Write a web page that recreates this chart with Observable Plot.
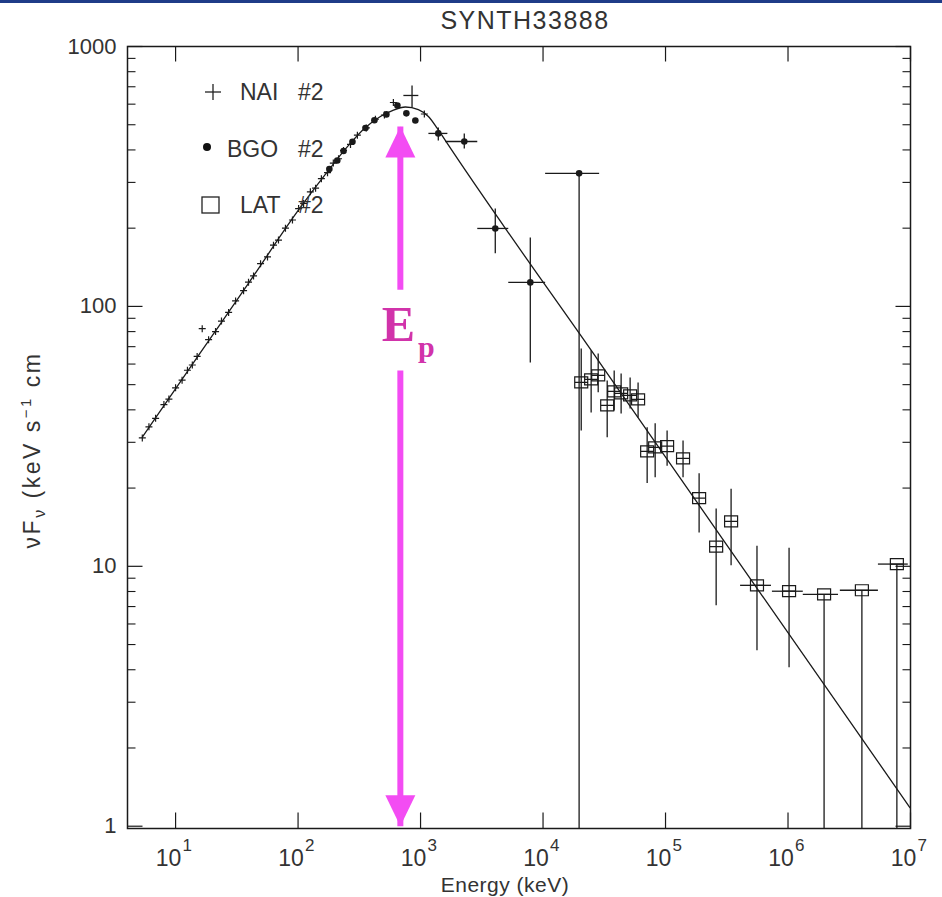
<!DOCTYPE html>
<html><head><meta charset="utf-8">
<script src="https://cdn.jsdelivr.net/npm/d3@7"></script>
<script src="https://cdn.jsdelivr.net/npm/@observablehq/plot@0.6"></script>
<style>
body{margin:0;background:#fff;}
#wrap{position:relative;width:942px;height:897px;overflow:hidden;background:#fff;font-family:"Liberation Sans",sans-serif;color:#333;}
#bar{position:absolute;left:0;top:0;width:942px;height:3px;background:#1f3c88;}
#title{position:absolute;left:425px;width:200px;top:6px;text-align:center;font-size:25px;letter-spacing:1.5px;color:#333;}
#chart{position:absolute;left:0;top:0;}
#xlab{position:absolute;left:505px;top:885px;transform:translate(-50%,-50%);font-size:21px;white-space:nowrap;letter-spacing:0.5px;}
#ylab{position:absolute;left:33px;top:450px;transform:translate(-50%,-50%) rotate(-90deg);font-size:23px;white-space:nowrap;letter-spacing:2.5px;}
#ylab sub{font-size:16px;vertical-align:-5px;}
#ylab sup{font-size:15px;vertical-align:9px;}
#legend{position:absolute;left:0;top:0;}
</style></head><body>
<div id="wrap">
<div id="chart"></div>
<div id="bar"></div>
<div id="title">SYNTH33888</div>
<div id="xlab">Energy (keV)</div>
<div id="ylab">νF<sub>ν</sub> (keV s<sup>−1</sup> cm</div>
<svg id="legend" width="942" height="897" font-family="Liberation Sans" font-size="23" fill="#333">
  <g stroke="#222" stroke-width="1.3" fill="none">
    <line x1="205" y1="92" x2="221" y2="92"/><line x1="213" y1="84" x2="213" y2="100"/>
    <rect x="202" y="197" width="17" height="16"/>
  </g>
  <circle cx="207" cy="147" r="4" fill="#111"/>
  <text x="240" y="100">NAI</text><text x="298" y="100">#2</text>
  <text x="227" y="157">BGO</text><text x="298" y="157">#2</text>
  <text x="240" y="213">LAT</text><text x="298" y="213">#2</text>
</svg>
</div>
<script>
// ---- axes ----
const xDomain = [4.05, 1e7];
const yDomain = [0.98, 1000];
const xTicks = [10, 100, 1e3, 1e4, 1e5, 1e6, 1e7];
const xTickExp = ["1", "2", "3", "4", "5", "6", "7"];
const yTicks = [1, 10, 100, 1000];
const yTickLabels = ["1", "10", "100", "1000"];
const yMinor = [2,3,4,5,6,7,8,9,20,30,40,50,60,70,80,90,200,300,400,500,600,700,800,900];

// ---- model curve ----
const modelE = [5.35, 16.0, 40.9, 98.9, 167, 253, 355, 470, 589, 752, 959, 1159, 1371, 1592, 29300, 490000, 9.89e6];
const modelF = [31.4, 66.5, 126, 232, 322, 412, 488, 538, 567, 585, 572, 538, 484, 435, 60.4, 8.99, 1.18];

// ---- NaI #2 ----
const naiE = [5.35, 6.06, 6.87, 8.03, 8.82, 10.0, 11.3, 12.5, 13.7, 15.0, 16.5, 18.6, 21.2, 23.7, 27.1, 30.9, 35.9, 39.4, 43.3, 49.4, 56.3, 63.0, 69.2, 78.9, 90.0, 101, 111, 126, 139, 155, 174, 194, 214, 235, 268, 305, 361, 428, 507, 600, 1074];
const naiF = [31.2, 34.4, 37.1, 41.9, 44.0, 48.6, 52.0, 56.8, 59.5, 64.2, 82.1, 74.5, 80.0, 87.8, 94.8, 105, 115, 124, 131, 146, 155, 172, 180, 200, 215, 238, 249, 276, 285, 310, 327, 356, 370, 398, 420, 456, 486, 525, 545, 609, 550];
// large NaI bin with error bars
const naiBigE = [852], naiBigF = [648], naiBigELo = [724], naiBigEHi = [959], naiBigFLo = [582], naiBigFHi = [708];

// ---- BGO #2 ----
const bgoE = [180, 209, 235, 278, 355, 420, 526, 647, 766, 907, 1396, 2275, 4074, 7870, 19700];
const bgoF = [338, 364, 396, 430, 486, 520, 548, 593, 553, 519, 463, 431, 199.5, 123.7, 325];
const bgoELo = [null,null,null,null,null,null,null,null,null,null, 1159, 1592, 2904, 5200, 10400];
const bgoEHi = [null,null,null,null,null,null,null,null,null,null, 1656, 2904, 5200, 10400, 28700];
const bgoFLo = [null,null,null,null,null,null,null,null,null,null, 435, 405, 160, 60.9, yDomain[0]];
const bgoFHi = [null,null,null,null,null,null,null,null,null,null, 488, 463, 238, 184, 325];

// ---- LAT #2 ----
const latE = [20500, 24700, 28200, 33400, 38100, 43400, 51400, 59700, 70800, 82300, 103000, 139000, 188000, 259000, 343000, 558000, 1.02e6, 1.97e6, 4.01e6, 7.74e6];
const latF = [51.0, 52.4, 54.3, 41.6, 47.1, 46.3, 45.5, 43.9, 27.7, 28.7, 29.0, 26.0, 18.3, 11.9, 14.9, 8.45, 8.02, 7.80, 8.09, 10.2];
const latFLo = [33.3, 39.1, 46.7, 31.4, 39.8, 38.7, 40.5, 37.4, 20.9, 22.0, 24.4, 22.0, 13.5, 7.08, 10.1, 4.75, 4.09, yDomain[0], yDomain[0], yDomain[0]];
const latFHi = [68.9, 67.8, 65.9, 51.9, 56.7, 55.2, 53.3, 51.0, 34.3, 35.5, 33.3, 30.5, 22.8, 16.7, 19.9, 12.0, 11.8, 7.80, 8.09, 10.2];
const latELo = [null,null,null,null,null,null,null,null,null,null,null,null,null,null,null, 4.06e5, 7.39e5, 1.32e6, 2.65e6, 5.42e6];
const latEHi = [null,null,null,null,null,null,null,null,null,null,null,null,null,null,null, 7.26e5, 1.32e6, 2.56e6, 5.42e6, 9.5e6];

// ---- Ep arrow ----
const epE = 684;
const arrowTop = 492, arrowBottom = 1.0, gapLow = 56.7, gapHigh = 116;
const epLabelF = 84.5;

// build tables
const model = modelE.map((e, i) => ({e, f: modelF[i]}));
const nai = naiE.map((e, i) => ({e, f: naiF[i]}));
const naiBig = naiBigE.map((e, i) => ({e, f: naiBigF[i], eLo: naiBigELo[i], eHi: naiBigEHi[i], fLo: naiBigFLo[i], fHi: naiBigFHi[i]}));
const bgo = bgoE.map((e, i) => ({e, f: bgoF[i], eLo: bgoELo[i], eHi: bgoEHi[i], fLo: bgoFLo[i], fHi: bgoFHi[i]}));
const lat = latE.map((e, i) => ({e, f: latF[i], eLo: latELo[i], eHi: latEHi[i], fLo: latFLo[i], fHi: latFHi[i]}));
const hBars = [...naiBig, ...bgo, ...lat].filter(d => d.eLo != null);
const vBars = [...naiBig, ...bgo, ...lat].filter(d => d.fLo != null);
const shaft = [{y1: arrowBottom, y2: gapLow}, {y1: gapHigh, y2: arrowTop}];

// symbols (styles)
const tickSym = (dx, dy) => ({draw(c) { c.moveTo(0, 0); c.lineTo(dx, dy); }});
const plusSym = {draw(c) { c.moveTo(-3.5, 0); c.lineTo(3.5, 0); c.moveTo(0, -3.5); c.lineTo(0, 3.5); }};
const sqSym = {draw(c) { c.moveTo(-6.5, -5.5); c.lineTo(6.5, -5.5); c.lineTo(6.5, 5.5); c.lineTo(-6.5, 5.5); c.closePath(); c.moveTo(-6.5, 0); c.lineTo(6.5, 0); }};
const headUp = {draw(c) { c.moveTo(0, 0); c.lineTo(15, 31); c.lineTo(-15, 31); c.closePath(); }};
const headDown = {draw(c) { c.moveTo(0, 0); c.lineTo(15, -31); c.lineTo(-15, -31); c.closePath(); }};

const ink = "#1a1a1a";
const magenta = "#f34cf3";
const txt = "#333";

const chart = Plot.plot({
  width: 942, height: 897,
  marginLeft: 127, marginRight: 32, marginTop: 46, marginBottom: 69,
  x: {type: "log", domain: xDomain, axis: null},
  y: {type: "log", domain: yDomain, axis: null},
  style: {background: "transparent", fontFamily: "Liberation Sans", overflow: "visible"},
  marks: [
    // axis ticks (inward)
    Plot.dot(xTicks, {x: d => d, y: () => yDomain[0], symbol: tickSym(0, -16), fill: "none", stroke: ink, strokeWidth: 1.2}),
    Plot.dot(xTicks, {x: d => d, y: () => yDomain[1], symbol: tickSym(0, 15), fill: "none", stroke: ink, strokeWidth: 1.2}),
    Plot.dot(yTicks, {x: () => xDomain[0], y: d => d, symbol: tickSym(15, 0), fill: "none", stroke: ink, strokeWidth: 1.2}),
    Plot.dot(yTicks, {x: () => xDomain[1], y: d => d, symbol: tickSym(-15, 0), fill: "none", stroke: ink, strokeWidth: 1.2}),
    Plot.dot(yMinor, {x: () => xDomain[0], y: d => d, symbol: tickSym(8, 0), fill: "none", stroke: ink, strokeWidth: 1.1}),
    Plot.dot(yMinor, {x: () => xDomain[1], y: d => d, symbol: tickSym(-8, 0), fill: "none", stroke: ink, strokeWidth: 1.1}),
    // tick labels
    Plot.text(yTicks, {x: () => xDomain[0], y: d => d, text: (d, i) => yTickLabels[i], textAnchor: "end", dx: -11, fontSize: 22, fill: txt}),
    Plot.text(xTicks, {x: d => d, y: () => yDomain[0], text: () => "10", dx: -7, dy: 30, fontSize: 23, fill: txt}),
    Plot.text(xTicks, {x: d => d, y: () => yDomain[0], text: (d, i) => xTickExp[i], textAnchor: "start", dx: 7, dy: 17, fontSize: 17, fill: txt}),
    // model
    Plot.line(model, {x: "e", y: "f", stroke: ink, strokeWidth: 1.3, curve: "monotone-x"}),
    // error bars
    Plot.link(hBars, {x1: "eLo", x2: "eHi", y1: "f", y2: "f", stroke: ink, strokeWidth: 1.3}),
    Plot.link(vBars, {x1: "e", x2: "e", y1: "fLo", y2: "fHi", stroke: ink, strokeWidth: 1.3}),
    // points
    Plot.dot(nai, {x: "e", y: "f", symbol: plusSym, fill: "none", stroke: ink, strokeWidth: 1.2}),
    Plot.dot(bgo, {x: "e", y: "f", r: 3.3, fill: ink}),
    Plot.dot(lat, {x: "e", y: "f", symbol: sqSym, fill: "none", stroke: ink, strokeWidth: 1.2}),
    Plot.frame({stroke: ink, strokeWidth: 1.5}),
    // Ep arrow
    Plot.link(shaft, {x1: () => epE, x2: () => epE, y1: "y1", y2: "y2", stroke: magenta, strokeWidth: 6}),
    Plot.dot([arrowTop], {x: () => epE, y: d => d, symbol: headUp, fill: magenta, stroke: "none"}),
    Plot.dot([arrowBottom], {x: () => epE, y: d => d, symbol: headDown, fill: magenta, stroke: "none"}),
    Plot.text([epLabelF], {x: () => epE, y: d => d, text: () => "E", dx: -2, fontSize: 50, fontWeight: "bold", fontFamily: "Liberation Serif", fill: "#d133aa"}),
    Plot.text([epLabelF], {x: () => epE, y: d => d, text: () => "p", dx: 26, dy: 22, fontSize: 30, fontWeight: "bold", fontFamily: "Liberation Serif", fill: "#d133aa"})
  ]
});
document.getElementById("chart").appendChild(chart);
</script>
</body></html>
